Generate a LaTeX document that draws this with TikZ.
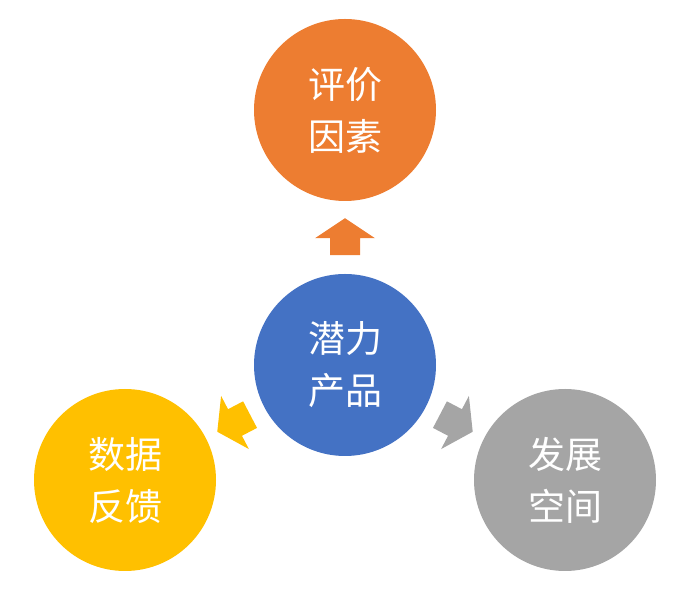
\documentclass[tikz,border=0pt]{standalone}
\usepackage{fontspec}
\newfontfamily\cjk{Noto Sans CJK SC}
\definecolor{corange}{HTML}{ED7D31}
\definecolor{cblue}{HTML}{4472C4}
\definecolor{cyellow}{HTML}{FFC000}
\definecolor{cgray}{HTML}{A5A5A5}
\begin{document}
\begin{tikzpicture}[x=1pt,y=1pt,
  ball/.style={circle,minimum size=182pt,inner sep=0pt,text=white,
    font=\cjk\fontsize{37}{52}\selectfont,align=center},
  blockarrow/.pic={\fill[pic actions] (-17,-15) -- (0,-15) -- (0,-30) -- (20,0) -- (0,30) -- (0,15) -- (-17,15) -- cycle;}]
\useasboundingbox (0,0) rectangle (689,610);
\node[ball,fill=corange] (top) at (345,500) {评价\\因素};
\node[ball,fill=cblue] (mid) at (345,245) {潜力\\产品};
\node[ball,fill=cyellow] (left) at (125,130) {数据\\反馈};
\node[ball,fill=cgray] (right) at (565,130) {发展\\空间};
\path (mid) -- (top) coordinate[pos=0.49] (a1);
\path (mid) -- (left) coordinate[pos=0.5] (a2);
\path (mid) -- (right) coordinate[pos=0.5] (a3);
\pic[fill=corange,rotate=90] at (a1) {blockarrow};
\pic[fill=cyellow,rotate=207.6] at (a2) {blockarrow};
\pic[fill=cgray,rotate=-27.6] at (a3) {blockarrow};
\end{tikzpicture}
\end{document}
